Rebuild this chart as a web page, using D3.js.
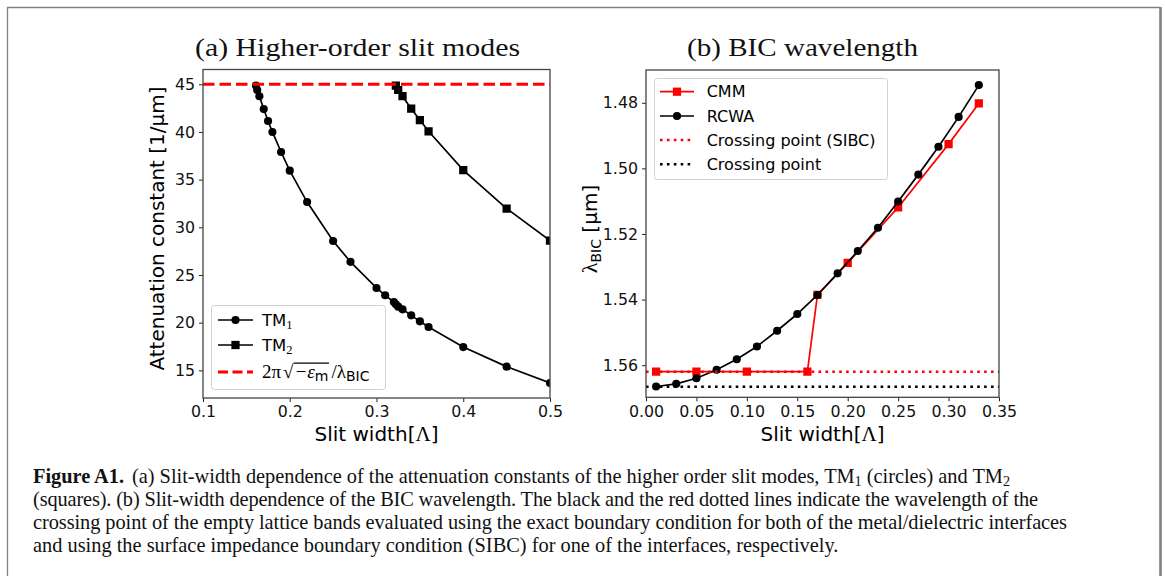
<!DOCTYPE html>
<html><head><meta charset="utf-8">
<script src="https://cdn.jsdelivr.net/npm/d3@7"></script>
<style>body{margin:0;background:#fff}svg{display:block}</style>
</head><body>
<script>
// ---------- data ----------
// (a) higher-order slit modes
const tm1Width = [0.161, 0.1625, 0.165, 0.17, 0.175, 0.18, 0.19, 0.2, 0.22, 0.25, 0.27, 0.3, 0.31, 0.32, 0.3223, 0.325, 0.33, 0.34, 0.35, 0.36, 0.4, 0.45, 0.5];
const tm1Atten = [44.86, 44.4, 43.75, 42.4, 41.15, 40.0, 37.9, 35.94, 32.65, 28.56, 26.38, 23.64, 22.87, 22.17, 21.93, 21.68, 21.4, 20.77, 20.14, 19.54, 17.44, 15.39, 13.67];
const tm2Width = [0.3223, 0.325, 0.33, 0.34, 0.35, 0.36, 0.4, 0.45, 0.5];
const tm2Atten = [44.86, 44.4, 43.75, 42.44, 41.25, 40.07, 36.0, 31.97, 28.6];
const limitAtten = 45.0;
const aXTicks = [0.1, 0.2, 0.3, 0.4, 0.5];
const aYTicks = [15, 20, 25, 30, 35, 40, 45];
// (b) BIC wavelength
const rcwaWidth = [0.01, 0.03, 0.05, 0.07, 0.09, 0.11, 0.13, 0.15, 0.17, 0.19, 0.21, 0.23, 0.25, 0.27, 0.29, 0.31, 0.33];
const rcwaLambda = [1.5665, 1.5657, 1.5640, 1.5614, 1.5582, 1.5543, 1.5495, 1.5444, 1.5386, 1.5320, 1.5252, 1.5181, 1.5101, 1.5019, 1.4934, 1.4843, 1.4746];
const cmmWidth = [0.01, 0.05, 0.10, 0.16, 0.17, 0.20, 0.25, 0.30, 0.33];
const cmmLambda = [1.5620, 1.5620, 1.5620, 1.5620, 1.5386, 1.5288, 1.5119, 1.4926, 1.4802];
const crossingSIBC = 1.5620;
const crossing = 1.5666;
const bXTicks = [0, 0.05, 0.10, 0.15, 0.20, 0.25, 0.30, 0.35];
const bYTicks = [1.48, 1.50, 1.52, 1.54, 1.56];

const captionLines = [
  "(squares). (b) Slit-width dependence of the BIC wavelength. The black and the red dotted lines indicate the wavelength of the",
  "crossing point of the empty lattice bands evaluated using the exact boundary condition for both of the metal/dielectric interfaces",
  "and using the surface impedance boundary condition (SIBC) for one of the interfaces, respectively."
];

// ---------- drawing ----------
const SANS = "DejaVu Sans", SERIF = "Liberation Serif";
const svg = d3.select("body").append("svg").attr("width", 1165).attr("height", 576);

// outer frame
svg.append("path").attr("d", "M7.5,576V7.5H1160").attr("fill", "none").attr("stroke", "#808080").attr("stroke-width", 1.3);
svg.append("line").attr("x1", 1160.5).attr("x2", 1160.5).attr("y1", 7).attr("y2", 576).attr("stroke", "#808080").attr("stroke-width", 2.6);

function styleAxis(g) {
  g.select(".domain").remove();
  g.selectAll(".tick line").attr("stroke", "#222").attr("stroke-width", 1);
  g.selectAll(".tick text").attr("font-family", SANS).attr("font-size", 15.8).attr("fill", "#111");
}

function panel(id, x, y, xTicks, yTicks, xFmt, yFmt) {
  const [x0, x1] = x.range(), [y0, y1] = y.range();
  const top = Math.min(y0, y1), bot = Math.max(y0, y1);
  const g = svg.append("g");
  g.append("clipPath").attr("id", id).append("rect").attr("x", x0).attr("y", top).attr("width", x1 - x0).attr("height", bot - top);
  g.append("g").attr("transform", `translate(0,${bot})`)
    .call(d3.axisBottom(x).tickValues(xTicks).tickFormat(xFmt).tickSize(4).tickPadding(4)).call(styleAxis);
  g.append("g").attr("transform", `translate(${x0},0)`)
    .call(d3.axisLeft(y).tickValues(yTicks).tickFormat(yFmt).tickSize(4).tickPadding(4)).call(styleAxis);
  const plot = g.append("g").attr("clip-path", `url(#${id})`);
  g.append("rect").attr("x", x0).attr("y", top).attr("width", x1 - x0).attr("height", bot - top)
    .attr("fill", "none").attr("stroke", "#444").attr("stroke-width", 1.3);
  return plot;
}

const CIRC = 52, SQ = 68;
function series(plot, x, y, xs, ys, color, marker) {
  const pts = xs.map((v, i) => [x(v), y(ys[i])]);
  plot.append("path").attr("d", d3.line()(pts)).attr("fill", "none").attr("stroke", color).attr("stroke-width", 1.7);
  plot.selectAll(null).data(pts).join("path")
    .attr("transform", d => `translate(${d[0]},${d[1]})`)
    .attr("d", d3.symbol(marker === "square" ? d3.symbolSquare : d3.symbolCircle, marker === "square" ? SQ : CIRC)())
    .attr("fill", color);
}

// ---- panel (a)
const xa = d3.scaleLinear([0.1, 0.5], [203, 550]);
const ya = d3.scaleLinear([12.1, 46.55], [398, 69.5]);
const pa = panel("clipA", xa, ya, aXTicks, aYTicks, d3.format(".1f"), d3.format("d"));
series(pa, xa, ya, tm1Width, tm1Atten, "#000", "circle");
series(pa, xa, ya, tm2Width, tm2Atten, "#000", "square");
pa.append("line").attr("x1", xa(0.1)).attr("x2", xa(0.5)).attr("y1", ya(limitAtten)).attr("y2", ya(limitAtten))
  .attr("stroke", "#ff0000").attr("stroke-width", 3).attr("stroke-dasharray", "11.5,5");

// ---- panel (b)
const xb = d3.scaleLinear([0, 0.35], [646, 999]);
const yb = d3.scaleLinear([1.4700, 1.5698], [70, 397.3]);
const pb = panel("clipB", xb, yb, bXTicks, bYTicks, d3.format(".2f"), d3.format(".2f"));
series(pb, xb, yb, cmmWidth, cmmLambda, "#ff0000", "square");
series(pb, xb, yb, rcwaWidth, rcwaLambda, "#000", "circle");
pb.append("line").attr("x1", xb(0)).attr("x2", xb(0.35)).attr("y1", yb(crossingSIBC)).attr("y2", yb(crossingSIBC))
  .attr("stroke", "#ff0000").attr("stroke-width", 2.6).attr("stroke-dasharray", "2.6,4.3");
pb.append("line").attr("x1", xb(0)).attr("x2", xb(0.35)).attr("y1", yb(crossing)).attr("y2", yb(crossing))
  .attr("stroke", "#000").attr("stroke-width", 2.6).attr("stroke-dasharray", "2.6,4.3");

// ---- titles
svg.append("text").attr("x", 195).attr("y", 56).attr("font-family", SERIF).attr("font-size", 25)
  .attr("textLength", 325).attr("lengthAdjust", "spacingAndGlyphs").attr("fill", "#111").text("(a) Higher-order slit modes");
svg.append("text").attr("x", 687).attr("y", 56).attr("font-family", SERIF).attr("font-size", 25)
  .attr("textLength", 231).attr("lengthAdjust", "spacingAndGlyphs").attr("fill", "#111").text("(b) BIC wavelength");

// ---- axis labels
function xLabel(cx) {
  const t = svg.append("text").attr("x", cx).attr("y", 441).attr("text-anchor", "middle")
    .attr("font-family", SANS).attr("font-size", 20).attr("fill", "#000");
  t.append("tspan").text("Slit width[");
  t.append("tspan").attr("font-family", SERIF).attr("font-size", 21).text("Λ");
  t.append("tspan").text("]");
}
xLabel(376.5); xLabel(822.5);

svg.append("text").attr("transform", "translate(164,228.5) rotate(-90)").attr("text-anchor", "middle")
  .attr("font-family", SANS).attr("font-size", 20).attr("fill", "#000").text("Attenuation constant [1/μm]");
{
  const t = svg.append("text").attr("transform", "translate(597,229) rotate(-90)").attr("text-anchor", "middle")
    .attr("font-family", SANS).attr("font-size", 20).attr("fill", "#000");
  t.append("tspan").attr("font-family", SERIF).attr("font-size", 22).text("λ");
  t.append("tspan").attr("font-size", 14).attr("dy", 4).text("BIC");
  t.append("tspan").attr("dy", -4).text(" [μm]");
}

// ---- legends
function legendBox(x, y, w, h) {
  svg.append("rect").attr("x", x + 0.5).attr("y", y + 0.5).attr("width", w).attr("height", h).attr("rx", 3)
    .attr("fill", "#fff").attr("fill-opacity", 0.85).attr("stroke", "#d0d0d0").attr("stroke-width", 1);
}
function legendLine(x0, x1, y, color, dash, width, marker) {
  svg.append("line").attr("x1", x0).attr("x2", x1).attr("y1", y).attr("y2", y).attr("stroke", color)
    .attr("stroke-width", width).attr("stroke-dasharray", dash);
  if (marker) svg.append("path").attr("transform", `translate(${(x0 + x1) / 2},${y})`)
    .attr("d", d3.symbol(marker === "square" ? d3.symbolSquare : d3.symbolCircle, marker === "square" ? SQ : CIRC)()).attr("fill", color);
}
function legendText(x, y) {
  return svg.append("text").attr("x", x).attr("y", y + 5.6).attr("font-family", SANS).attr("font-size", 16).attr("fill", "#000");
}

// left legend
legendBox(211, 305, 174, 84);
legendLine(218, 253, 320, "#000", null, 1.7, "circle");
legendLine(218, 253, 345, "#000", null, 1.7, "square");
legendLine(218, 253, 372, "#ff0000", "10,4.5", 3, null);
{
  let t = legendText(262, 320).attr("font-size", 16.5); t.append("tspan").text("TM");
  t.append("tspan").attr("font-family", SERIF).attr("font-size", 12.5).attr("dy", 3).text("1");
  t = legendText(262, 345).attr("font-size", 16.5); t.append("tspan").text("TM");
  t.append("tspan").attr("font-family", SERIF).attr("font-size", 12.5).attr("dy", 3).text("2");
  t = legendText(262, 372).attr("font-family", SERIF).attr("font-size", 19);
  t.append("tspan").text("2π");
  const rad = t.append("tspan").attr("dx", 2).text("√");
  const inner = t.append("tspan").attr("font-style", "italic").attr("dx", 1).text("−ε");
  const sub = t.append("tspan").attr("font-family", SANS).attr("font-size", 14).attr("dy", 3).text("m");
  t.append("tspan").attr("dy", -3).attr("dx", 3).text("/λ");
  t.append("tspan").attr("font-family", SANS).attr("font-size", 14).attr("dy", 3).text("BIC");
  const rb = rad.node().getBBox(), sb = sub.node().getBBox();
  svg.append("line").attr("x1", rb.x + rb.width - 0.5).attr("x2", sb.x + sb.width + 0.5)
    .attr("y1", rb.y + 2.5).attr("y2", rb.y + 2.5).attr("stroke", "#000").attr("stroke-width", 1.1);
}

// right legend
legendBox(654, 78, 233, 101);
legendLine(660, 694, 91.7, "#ff0000", null, 1.7, "square");
legendLine(660, 694, 116, "#000", null, 1.7, "circle");
legendLine(660, 694, 140, "#ff0000", "2.6,4.3", 2.6, null);
legendLine(660, 694, 164.3, "#000", "2.6,4.3", 2.6, null);
legendText(706.7, 91.7).text("CMM");
legendText(706.7, 116).text("RCWA");
legendText(706.7, 140).text("Crossing point (SIBC)");
legendText(706.7, 164.3).text("Crossing point");

// ---- caption
const cap = svg.append("g").attr("font-family", SERIF).attr("fill", "#111");
const baseY = [482.5, 505.5, 528.5, 551.5];
const c1 = cap.append("text").attr("x", 33).attr("y", baseY[0]).attr("font-size", 17);
c1.append("tspan").attr("font-weight", "bold").text("Figure A1.");
c1.append("tspan").attr("dx", 8).text("(a) Slit-width dependence of the attenuation constants of the higher order slit modes, TM");
c1.append("tspan").attr("font-size", 12).attr("dy", 3).text("1");
c1.append("tspan").attr("dy", -3).text(" (circles) and TM");
c1.append("tspan").attr("font-size", 12).attr("dy", 3).text("2");
const others = captionLines.map((s, i) => cap.append("text").attr("x", 33).attr("y", baseY[i + 1]).attr("font-size", 17).text(s));
const w4 = others[2].node().getComputedTextLength();
const fs = 17 * 806 / w4;
c1.attr("font-size", fs).selectAll("tspan").filter(function () { return this.getAttribute("font-size") === "12"; }).attr("font-size", fs * 0.7);
others.forEach(t => t.attr("font-size", fs));
c1.attr("textLength", 977).attr("lengthAdjust", "spacing");
others[0].attr("textLength", 1005).attr("lengthAdjust", "spacing");
others[1].attr("textLength", 1034).attr("lengthAdjust", "spacing");
</script>
</body></html>
